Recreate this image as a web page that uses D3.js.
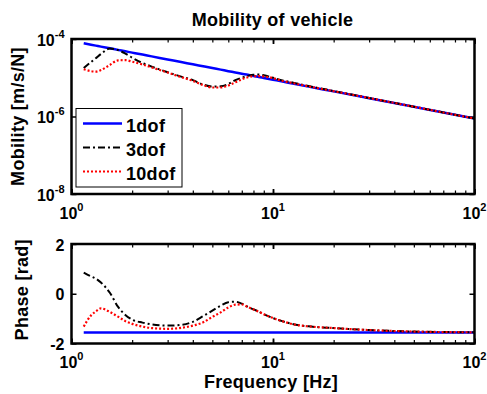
<!DOCTYPE html>
<html>
<head>
<meta charset="utf-8">
<script src="https://cdn.jsdelivr.net/npm/d3@7"></script>
<style>
    body { margin: 0; background: #fff; }
    svg text { font-family: "Liberation Sans", Arial, sans-serif; font-weight: bold; fill: #000; }
    .label { font-size: 18px; letter-spacing: 0.3px; }
</style>
</head>
<body>
<div id="chart"></div>
<script>
// frequencies [Hz] the curves were read at
const freq = [1.15, 1.25, 1.32, 1.4, 1.55, 1.7, 1.85, 2, 2.25, 2.5, 3, 3.5, 4, 4.5, 5, 5.5, 6, 6.5, 7, 7.5,
    8, 8.5, 9, 10, 11, 12.5, 15, 20, 30, 50, 70, 100];

// mobility [m/s/N]
const mob1dof = [7.74e-5, 7.12e-5, 6.74e-5, 6.36e-5, 5.74e-5, 5.24e-5, 4.81e-5, 4.45e-5, 3.96e-5, 3.56e-5,
    2.97e-5, 2.54e-5, 2.23e-5, 1.98e-5, 1.78e-5, 1.62e-5, 1.48e-5, 1.37e-5, 1.27e-5, 1.19e-5,
    1.11e-5, 1.05e-5, 9.9e-6, 8.9e-6, 8.1e-6, 7.1e-6, 5.9e-6, 4.45e-6, 2.97e-6, 1.78e-6, 1.27e-6, 8.9e-7];
const mob3dof = [1.78e-5, 2.55e-5, 3.2e-5, 4.1e-5, 5.7e-5, 5.2e-5, 4.2e-5, 3.3e-5, 2.4e-5, 1.94e-5,
    1.39e-5, 1.07e-5, 8.7e-6, 6.7e-6, 5.9e-6, 6.0e-6, 6.9e-6, 8.7e-6, 1.0e-5, 1.12e-5,
    1.2e-5, 1.21e-5, 1.16e-5, 1.0e-5, 8.7e-6, 7.5e-6, 6.1e-6, 4.55e-6, 3.0e-6, 1.79e-6, 1.27e-6, 8.9e-7];
const mob10dof = [1.66e-5, 1.48e-5, 1.44e-5, 1.58e-5, 2.14e-5, 2.8e-5, 2.85e-5, 2.6e-5, 2.2e-5, 1.85e-5,
    1.36e-5, 1.04e-5, 8.3e-6, 6.5e-6, 5.6e-6, 5.6e-6, 6.3e-6, 7.6e-6, 9.1e-6, 1.03e-5,
    1.09e-5, 1.1e-5, 1.08e-5, 9.8e-6, 8.4e-6, 7.3e-6, 6.0e-6, 4.5e-6, 3.0e-6, 1.79e-6, 1.27e-6, 8.9e-7];

// phase [rad]
const phase1dof = [-1.56, -1.56, -1.56, -1.56, -1.56, -1.56, -1.56, -1.56, -1.56, -1.56,
    -1.56, -1.56, -1.56, -1.56, -1.56, -1.56, -1.56, -1.56, -1.56, -1.56,
    -1.56, -1.56, -1.56, -1.56, -1.56, -1.56, -1.56, -1.56, -1.56, -1.56, -1.56, -1.56];
const phase3dof = [0.85, 0.70, 0.61, 0.45, 0.04, -0.52, -0.85, -1.04, -1.16, -1.23,
    -1.28, -1.25, -1.13, -0.90, -0.68, -0.48, -0.34, -0.32, -0.40, -0.53,
    -0.63, -0.72, -0.82, -0.98, -1.09, -1.22, -1.31, -1.38, -1.46, -1.52, -1.54, -1.55];
const phase10dof = [-1.32, -0.87, -0.71, -0.59, -0.73, -0.92, -1.10, -1.21, -1.32, -1.38,
    -1.41, -1.37, -1.28, -1.15, -0.93, -0.75, -0.55, -0.44, -0.43, -0.53,
    -0.63, -0.72, -0.82, -0.98, -1.09, -1.22, -1.31, -1.38, -1.46, -1.52, -1.54, -1.55];

const seriesNames = ["1dof", "3dof", "10dof"];
const xTickExps = [0, 1, 2];
const magTickExps = [-8, -6, -4];
const phaseTicks = [-2, 0, 2];

const styles = {
    "1dof": {color: "#0000ff", width: 2.5, dash: null},
    "3dof": {color: "#000000", width: 2, dash: "7,3,2,3"},
    "10dof": {color: "#ff0000", width: 2.2, dash: "2,2"}
};

const W = 487, H = 394;
const svg = d3.select("#chart").append("svg")
    .attr("width", W)
    .attr("height", H);

const x = d3.scaleLog().domain([1, 100]).range([71.5, 474.5]);
const yMag = d3.scaleLog().domain([1e-8, 1e-4]).range([194, 39]);
const yPh = d3.scaleLinear().domain([-2, 2]).range([343.5, 244]);

const minorX = x.ticks();
const majorX = xTickExps.map(e => Math.pow(10, e));

function drawPanel(name, y, yTickValues, yTickText, datasets) {
    let top = y.range()[1], bottom = y.range()[0];
    let left = x.range()[0], right = x.range()[1];
    let g = svg.append("g").attr("class", name);

    g.append("clipPath").attr("id", "clip-" + name)
        .append("rect")
        .attr("x", left).attr("y", top)
        .attr("width", right - left).attr("height", bottom - top);

    // inside ticks, both edges (matlab box style)
    let tick = (axis, tx, ty, w) => g.append("g")
        .attr("transform", `translate(${tx},${ty})`)
        .call(axis)
        .call(a => a.select(".domain").remove())
        .call(a => a.selectAll("line").attr("stroke", "#000").attr("stroke-width", w));

    tick(d3.axisBottom(x).tickValues(minorX).tickSize(-3.5).tickFormat(""), 0, bottom, 1.2);
    tick(d3.axisTop(x).tickValues(minorX).tickSize(-3.5).tickFormat(""), 0, top, 1.2);
    tick(d3.axisBottom(x).tickValues(majorX).tickSize(-5).tickFormat(""), 0, bottom, 1.8);
    tick(d3.axisTop(x).tickValues(majorX).tickSize(-5).tickFormat(""), 0, top, 1.8);
    tick(d3.axisLeft(y).tickValues(yTickValues).tickSize(-5).tickFormat(""), left, 0, 1.5);
    tick(d3.axisRight(y).tickValues(yTickValues).tickSize(-5).tickFormat(""), right, 0, 1.5);

    // x tick labels 10^n
    xTickExps.forEach(function (e) {
        let t = g.append("text")
            .attr("x", x(Math.pow(10, e)))
            .attr("y", bottom + 24.5)
            .attr("text-anchor", "middle")
            .style("font-size", "16px");
        t.append("tspan").text("10");
        t.append("tspan").attr("dy", -8).style("font-size", "11px").text(e);
    });

    // y tick labels
    yTickValues.forEach(function (v) {
        let t = g.append("text")
            .attr("x", left - 7)
            .attr("y", y(v) + 6.5)
            .attr("text-anchor", "end")
            .style("font-size", "16px");
        yTickText(t, v);
    });

    let line = d3.line()
        .x(d => x(d.f))
        .y(d => y(d.v))
        .curve(d3.curveMonotoneX);

    g.append("g").attr("clip-path", `url(#clip-${name})`)
        .selectAll("path")
        .data(datasets)
        .enter()
        .append("path")
        .attr("d", d => line(d.values))
        .attr("fill", "none")
        .attr("stroke", d => styles[d.name].color)
        .attr("stroke-width", d => styles[d.name].width)
        .attr("stroke-dasharray", d => styles[d.name].dash);

    g.append("rect")
        .attr("x", left).attr("y", top)
        .attr("width", right - left).attr("height", bottom - top)
        .attr("fill", "none")
        .attr("stroke", "#000")
        .attr("stroke-width", 2.5);

    return g;
}

const toPoints = arr => arr.map((v, i) => ({f: freq[i], v: v}));

const magData = [mob1dof, mob3dof, mob10dof].map((arr, i) => ({name: seriesNames[i], values: toPoints(arr)}));
const phaseData = [phase1dof, phase3dof, phase10dof].map((arr, i) => ({name: seriesNames[i], values: toPoints(arr)}));

drawPanel("mag", yMag, magTickExps.map(e => Math.pow(10, e)), function (t, v) {
    t.append("tspan").text("10");
    t.append("tspan").attr("dy", -8).style("font-size", "11px").text(Math.round(Math.log10(v)));
}, magData);

drawPanel("phase", yPh, phaseTicks, (t, v) => t.text(v), phaseData);

// title + axis labels
svg.append("text")
    .attr("class", "label")
    .attr("x", 272.5).attr("y", 26)
    .attr("text-anchor", "middle")
    .text("Mobility of vehicle");

svg.append("text")
    .attr("class", "label")
    .attr("transform", `translate(24,${(yMag.range()[0] + yMag.range()[1]) / 2})rotate(-90)`)
    .attr("text-anchor", "middle")
    .text("Mobility [m/s/N]");

svg.append("text")
    .attr("class", "label")
    .attr("transform", `translate(28,${(yPh.range()[0] + yPh.range()[1]) / 2 - 4})rotate(-90)`)
    .attr("text-anchor", "middle")
    .text("Phase [rad]");

svg.append("text")
    .attr("class", "label")
    .attr("x", 271).attr("y", 388)
    .attr("text-anchor", "middle")
    .text("Frequency [Hz]");

// legend
let legend = svg.append("g").attr("class", "legend");
legend.append("rect")
    .attr("x", 76).attr("y", 108.5)
    .attr("width", 106).attr("height", 78.5)
    .attr("fill", "#fff")
    .attr("stroke", "#000")
    .attr("stroke-width", 1);

let rows = legend.selectAll(".row")
    .data(seriesNames)
    .enter()
    .append("g")
    .attr("class", "row")
    .attr("transform", (d, i) => `translate(0,${123.5 + i * 24})`);

rows.append("line")
    .attr("x1", 83).attr("x2", 122)
    .attr("y1", 0).attr("y2", 0)
    .attr("stroke", d => styles[d].color)
    .attr("stroke-width", d => styles[d].width)
    .attr("stroke-dasharray", d => styles[d].dash);

rows.append("text")
    .attr("class", "label")
    .attr("x", 126).attr("y", 8.5)
    .text(d => d);
</script>
</body>
</html>
